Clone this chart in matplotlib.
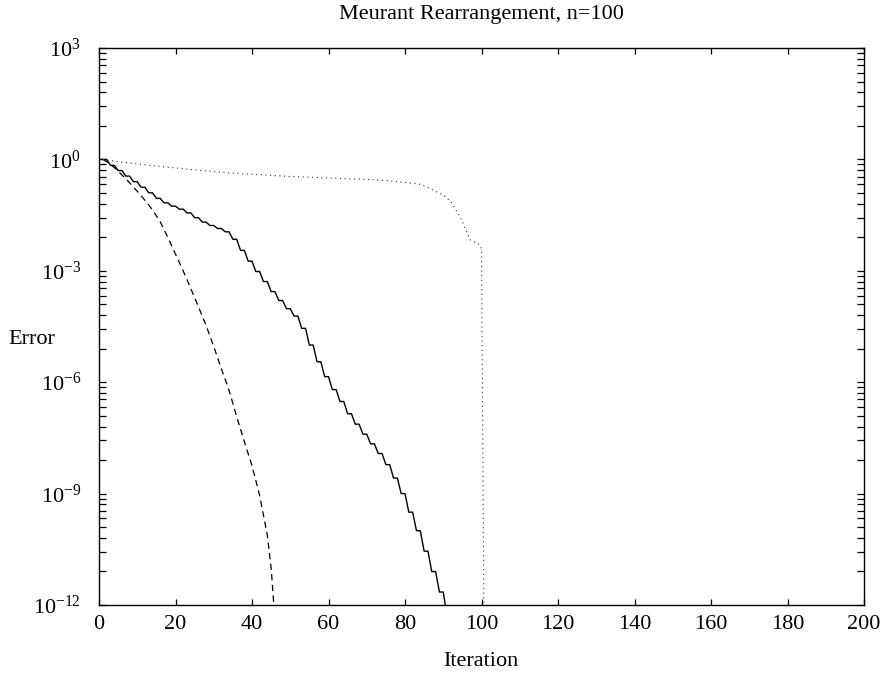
import numpy as np
import matplotlib
matplotlib.use("Agg")
import matplotlib.pyplot as plt
from matplotlib.ticker import FixedLocator, FuncFormatter, NullFormatter

plt.rcParams['font.family'] = ['Liberation Serif', 'DejaVu Serif']
plt.rcParams['mathtext.fontset'] = 'custom'
plt.rcParams['mathtext.rm'] = 'Liberation Serif'
plt.rcParams['mathtext.it'] = 'Liberation Serif:italic'

# solid curve: log10(error) per iteration (staircase)
solid_it = np.arange(0, 92)
solid_log = [0.00, 0.00, 0.00, -0.16, -0.16, -0.30, -0.30, -0.45, -0.45, -0.60,
             -0.60, -0.75, -0.75, -0.90, -0.90, -1.05, -1.05, -1.17, -1.17, -1.26,
             -1.26, -1.34, -1.34, -1.44, -1.44, -1.57, -1.57, -1.69, -1.69, -1.78,
             -1.78, -1.86, -1.86, -1.95, -1.95, -2.15, -2.15, -2.45, -2.45, -2.74,
             -2.74, -3.02, -3.02, -3.29, -3.29, -3.56, -3.56, -3.80, -3.80, -4.02,
             -4.02, -4.22, -4.22, -4.55, -4.55, -5.00, -5.00, -5.45, -5.45, -5.85,
             -5.85, -6.20, -6.20, -6.52, -6.52, -6.85, -6.85, -7.13, -7.13, -7.40,
             -7.40, -7.66, -7.66, -7.92, -7.92, -8.22, -8.22, -8.58, -8.58, -9.00,
             -9.00, -9.50, -9.50, -10.00, -10.00, -10.55, -10.55, -11.10, -11.10, -11.65,
             -11.65, -12.30]

# dashed curve
dashed_it = [1, 2, 4, 6, 8, 10, 12, 14, 16, 18, 20, 22, 24, 26, 28, 30, 32, 34,
             36, 38, 40, 42, 44, 45, 46]
dashed_log = [0.00, -0.06, -0.22, -0.42, -0.63, -0.86, -1.10, -1.36, -1.68, -2.10,
              -2.55, -3.00, -3.48, -3.97, -4.47, -5.04, -5.64, -6.22, -6.93, -7.60,
              -8.25, -9.05, -10.12, -11.00, -12.40]

# dotted curve
dotted_it = [1, 5, 10, 15, 20, 25, 30, 35, 40, 45, 50, 55, 60, 65, 70, 75, 78, 81,
             84, 86, 88, 90, 92, 94, 95, 96, 97, 98, 99, 100, 101]
dotted_log = [0.00, -0.06, -0.12, -0.18, -0.23, -0.28, -0.33, -0.37, -0.40, -0.43,
              -0.46, -0.48, -0.50, -0.52, -0.54, -0.57, -0.60, -0.63, -0.67, -0.76,
              -0.86, -0.96, -1.14, -1.48, -1.68, -1.92, -2.16, -2.22, -2.24, -2.40,
              -18.0]

fig = plt.figure(figsize=(8.85, 6.83), dpi=100)
ax = fig.add_axes([99/885, 1 - 605/683, 765/885, 557/683])

ax.plot(solid_it, 10.0**np.array(solid_log), color='black', lw=1.0, ls='-')
ax.plot(dashed_it, 10.0**np.array(dashed_log), color='black', lw=0.9, ls=(0, (5, 3.5)))
ax.plot(dotted_it, 10.0**np.array(dotted_log), color='#333333', lw=0.8, ls=(0, (1, 3.2)))

ax.set_yscale('log')
ax.set_xlim(0, 200)
ax.set_ylim(1e-12, 1e3)

# gnuplot-style log ticks: labels every 3 decades, minor ticks at k^3 spacing
major_exp = [-12, -9, -6, -3, 0, 3]
ax.yaxis.set_major_locator(FixedLocator([10.0**e for e in major_exp]))
minor = [10.0**(e + 3*np.log10(k)) for e in major_exp[:-1] for k in range(2, 10)]
ax.yaxis.set_minor_locator(FixedLocator(minor))
ax.yaxis.set_minor_formatter(NullFormatter())
ax.yaxis.set_major_formatter(FuncFormatter(
    lambda v, p: r'$\mathrm{10^{%d}}$' % int(round(np.log10(v)))))
ax.set_xticks(np.arange(0, 201, 20))

ax.tick_params(axis='both', which='both', direction='in', top=True, right=True,
               labelsize=16, width=0.9, colors='black')
ax.tick_params(axis='y', which='both', length=5.0, pad=13)
ax.tick_params(axis='x', which='both', length=4.3, pad=7)
for s in ax.spines.values():
    s.set_linewidth(1.0)

fig.text(481/885, 1 - 14/683, 'Meurant Rearrangement, n=100', ha='center', va='center', fontsize=16)
fig.text(481/885, 1 - 662/683, 'Iteration', ha='center', va='center', fontsize=16)
fig.text(32/885, 1 - 340/683, 'Error', ha='center', va='center', fontsize=16)

fig.savefig('out.png', dpi=100)
